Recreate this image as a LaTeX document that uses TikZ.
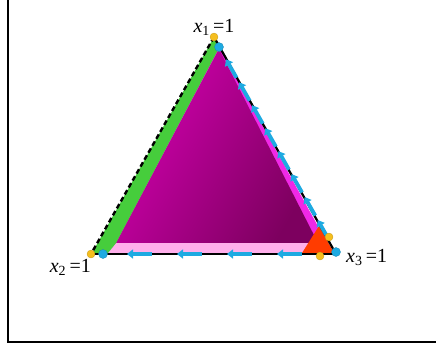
\documentclass[tikz,border=0pt]{standalone}
\usepackage{fontspec}
\setmainfont{Liberation Serif}
\usetikzlibrary{positioning,calc,arrows.meta}
\definecolor{edgegreen}{RGB}{70,205,60}
\definecolor{facemagenta}{RGB}{210,0,175}
\definecolor{facedark}{RGB}{125,0,95}
\definecolor{brightmagenta}{RGB}{240,40,230}
\definecolor{lightpink}{RGB}{255,175,235}
\definecolor{cornerred}{RGB}{255,60,0}
\definecolor{flowcyan}{RGB}{30,170,225}
\definecolor{dotyellow}{RGB}{245,190,30}

\begin{document}
\begin{tikzpicture}[x=1pt, y=-1pt,
    lbl/.style={font=\fontsize{20}{24}\selectfont, inner sep=0pt},
    flow/.style={draw=flowcyan, line width=3.8pt, -{Triangle[length=6pt,width=9pt]}},
    ydot/.style={fill=dotyellow, draw=dotyellow!80!black, line width=0.3pt},
    bdot/.style={fill=flowcyan, draw=flowcyan!80!black, line width=0.3pt}]
    \useasboundingbox (0,0) rectangle (436,349);

    % frame (left and bottom)
    \draw[line width=2pt] (7.5,0) -- (7.5,342) -- (436,342);

    % corners of the simplex
    \coordinate (v1) at (214,37);
    \coordinate (v2) at (91,254);
    \coordinate (v3) at (336,254);
    % ends of the flow lines
    \coordinate (f1) at (219,47);
    \coordinate (f2) at (103,254);
    \coordinate (f3) at (336,252);

    % faces
    \fill[brightmagenta] (219,47) -- (112,248) -- (330,248) -- cycle;
    \shade[left color=facemagenta, right color=facedark, shading angle=60]
        (219,49) -- (116,243) -- (318,243) -- cycle;
    \fill[lightpink] (116,243) -- (108,253) -- (304,253) -- (312,243) -- cycle;
    \fill[edgegreen] (v1) -- (92,253) -- (108,253) -- (116,243) -- (219,48) -- cycle;
    \fill[cornerred] (302,253) -- (334,253) -- (319,226) -- cycle;

    % edges
    \draw[line width=2.4pt, dash pattern=on 5pt off 3pt] (v1) -- (v2);
    \draw[line width=2.2pt] (v1) -- (v3);
    \draw[line width=2.2pt] (v2) -- (v3);

    % flow towards x_1
    \foreach \k in {0,...,7} {
        \pgfmathsetmacro{\ta}{0.06+0.112*\k}
        \pgfmathsetmacro{\tb}{\ta+0.09}
        \draw[flow] ($(f1)!\tb!(f3)$) -- ($(f1)!\ta!(f3)$);
    }
    % flow towards x_2
    \foreach \xa in {127,177,227,277} {
        \draw[flow] (\xa+25,254) -- (\xa,254);
    }

    % rest points
    \fill[ydot] (v1) circle (4pt);
    \fill[ydot] (v2) circle (4pt);
    \fill[ydot] (320,256) circle (4pt);
    \fill[ydot] (329,237) circle (4pt);
    \fill[bdot] (f1) circle (4.5pt);
    \fill[bdot] (f2) circle (4.5pt);
    \fill[bdot] (f3) circle (4.5pt);

    % labels
    \node[lbl, above=1pt of v1] (l1) {\textit{x}\textsubscript{1}\,=1};
    \node[lbl, below left=5pt and 0pt of v2] (l2) {\textit{x}\textsubscript{2}\,=1};
    \node[lbl, below right=-5pt and 10pt of v3] (l3) {\textit{x}\textsubscript{3}\,=1};
\end{tikzpicture}
\end{document}
